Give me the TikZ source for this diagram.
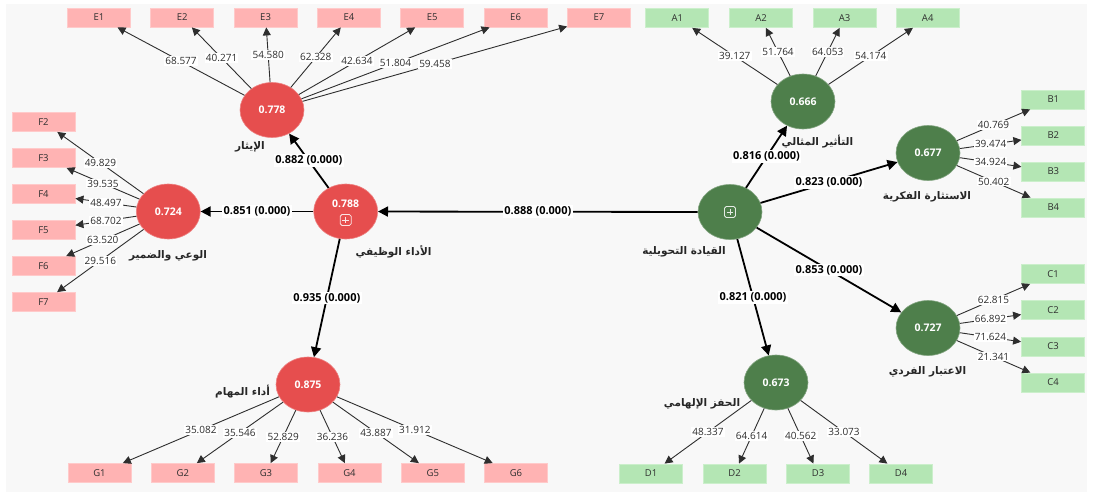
\documentclass[tikz,border=0pt]{standalone}
\usepackage{fontspec}
\setmainfont{Open Sans}
\newfontfamily\arabicfont[Script=Arabic]{DejaVu Sans}
\TeXXeTstate=1
\usetikzlibrary{shapes.geometric,arrows.meta}

\definecolor{panelbg}{HTML}{F8F8F8}
\definecolor{redlv}{HTML}{E64E4E}
\definecolor{greenlv}{HTML}{4E7F4B}
\definecolor{pinkind}{HTML}{FFB3B3}
\definecolor{pinkedge}{HTML}{FFCACA}
\definecolor{greenind}{HTML}{B4E6B4}
\definecolor{greenedge}{HTML}{CBEFCB}
\definecolor{inktext}{HTML}{2E2E2E}

\tikzset{
  latent/.style={ellipse, minimum width=64pt, minimum height=55pt, inner sep=0pt,
    text=white, font=\bfseries\fontsize{10.5}{12}\selectfont},
  redlatent/.style={latent, fill=redlv, draw=redlv!70!white, line width=0.6pt},
  greenlatent/.style={latent, fill=greenlv, draw=greenlv!70!white, line width=0.6pt},
  lvvalue/.style={text=white, font=\bfseries\fontsize{10.5}{12}\selectfont, inner sep=0pt},
  indbox/.style={rectangle, minimum width=63pt, minimum height=19pt, inner sep=0pt,
    line width=0.8pt, text=inktext, font=\fontsize{9.5}{10}\selectfont},
  redind/.style={indbox, fill=pinkind, draw=pinkedge},
  greenind/.style={indbox, fill=greenind, draw=greenedge},
  loading/.style={-{Triangle[length=8pt,width=8pt]}, line width=0.9pt, draw=inktext},
  loadlabel/.style={fill=white, inner sep=1.2pt, text=inktext, font=\fontsize{10}{11}\selectfont},
  structural/.style={-{Triangle[length=10pt,width=10pt]}, line width=1.8pt, draw=black},
  pathlabel/.style={fill=white, inner sep=1.5pt, text=black, font=\bfseries\fontsize{11}{12}\selectfont},
  lvname/.style={inner sep=0pt, text=black!85, font=\arabicfont\bfseries\fontsize{10.5}{12}\selectfont},
  plusbox/.pic={
    \draw[white, opacity=0.85, line width=0.8pt, rounded corners=1.8pt] (-5.5,-5.5) rectangle (5.5,5.5);
    \draw[white, opacity=0.85, line width=0.8pt] (-3.3,0) -- (3.3,0) (0,-3.3) -- (0,3.3);
  }
}

\begin{document}
\begin{tikzpicture}[x=1pt, y=-1pt]
\useasboundingbox (0,0) rectangle (1093,493);
\fill[panelbg] (6,4) rectangle (1087,491.5);

% ---------- latent variables ----------
\node[redlatent] (AL) at (272,110) {0.778};
\node[redlatent] (CS) at (168.3,211.5) {0.724};
\node[redlatent] (JP) at (345.7,211.5) {};
\node[lvvalue] (JPv) at (345.7,203.3) {0.788};
\pic at (345.7,220) {plusbox};
\node[redlatent] (TP) at (308,384.5) {0.875};

\node[greenlatent] (TL) at (730,212) {};
\pic at (730,212) {plusbox};
\node[greenlatent] (II) at (803,101.5) {0.666};
\node[greenlatent] (IS) at (928,153) {0.677};
\node[greenlatent] (IC) at (928,328) {0.727};
\node[greenlatent] (IM) at (776,382.5) {0.673};

% ---------- construct names ----------
\node[lvname] (ALn) at (250,147) {\beginR الإيثار\endR};
\node[lvname] (CSn) at (168,256) {\beginR الوعي والضمير\endR};
\node[lvname] (JPn) at (393.5,252) {\beginR الأداء الوظيفي\endR};
\node[lvname] (TPn) at (242.5,392) {\beginR أداء المهام\endR};
\node[lvname] (TLn) at (684,252) {\beginR القيادة التحويلية\endR};
\node[lvname] (IIn) at (817.5,142) {\beginR التأثير المثالي\endR};
\node[lvname] (ISn) at (927,197) {\beginR الاستثارة الفكرية\endR};
\node[lvname] (ICn) at (927.5,372) {\beginR الاعتبار الفردي\endR};
\node[lvname] (IMn) at (702,404) {\beginR الحفز الإلهامي\endR};

% ---------- indicators ----------
\foreach \i/\xx in {1/99,2/182.3,3/265.6,4/349,5/432.3,6/515.6,7/599}
  \node[redind] (E\i) at (\xx,17.5) {E\i};
\foreach \i/\yy in {2/122,3/158,4/194,5/230,6/266,7/302}
  \node[redind] (F\i) at (43.5,\yy) {F\i};
\foreach \i/\xx in {1/99.5,2/182.8,3/266,4/349.5,5/432.8,6/516}
  \node[redind] (G\i) at (\xx,473) {G\i};
\foreach \i/\xx in {1/677.3,2/761,3/844.5,4/927.7}
  \node[greenind] (A\i) at (\xx,18) {A\i};
\foreach \i/\yy in {1/99.5,2/135.5,3/171.5,4/207.5}
  \node[greenind] (B\i) at (1053.3,\yy) {B\i};
\foreach \i/\yy in {1/274,2/310,3/346.5,4/382.5}
  \node[greenind] (C\i) at (1053,\yy) {C\i};
\foreach \i/\xx in {1/651,2/734.5,3/818,4/901}
  \node[greenind] (D\i) at (\xx,473.5) {D\i};

% ---------- outer loadings ----------
\foreach \i/\v in {1/68.577,2/40.271,3/54.580,4/62.328,5/42.634,6/51.804,7/59.458}
  \draw[loading] (AL) -- node[loadlabel] {\v} (E\i);
\foreach \i/\v in {2/49.829,3/39.535,4/48.497,5/68.702,6/63.520,7/29.516}
  \draw[loading] (CS) -- node[loadlabel] {\v} (F\i);
\foreach \i/\v in {1/35.082,2/35.546,3/52.829,4/36.236,5/43.887,6/31.912}
  \draw[loading] (TP) -- node[loadlabel] {\v} (G\i);
\foreach \i/\v in {1/39.127,2/51.764,3/64.053,4/54.174}
  \draw[loading] (II) -- node[loadlabel] {\v} (A\i);
\foreach \i/\v in {1/40.769,2/39.474,3/34.924,4/50.402}
  \draw[loading] (IS) -- node[loadlabel] {\v} (B\i);
\foreach \i/\v in {1/62.815,2/66.892,3/71.624,4/21.341}
  \draw[loading] (IC) -- node[loadlabel] {\v} (C\i);
\foreach \i/\v in {1/48.337,2/64.614,3/40.562,4/33.073}
  \draw[loading] (IM) -- node[loadlabel] {\v} (D\i);

% ---------- structural paths ----------
\draw[structural] (TL) -- node[pathlabel] {0.888 (0.000)} (JP);
\draw[structural] (JP) -- node[pathlabel] {0.882 (0.000)} (AL);
\draw[structural] (JP) -- node[pathlabel] {0.851 (0.000)} (CS);
\draw[structural] (JP) -- node[pathlabel] {0.935 (0.000)} (TP);
\draw[structural] (TL) -- node[pathlabel] {0.816 (0.000)} (II);
\draw[structural] (TL) -- node[pathlabel] {0.823 (0.000)} (IS);
\draw[structural] (TL) -- node[pathlabel] {0.853 (0.000)} (IC);
\draw[structural] (TL) -- node[pathlabel] {0.821 (0.000)} (IM);
\end{tikzpicture}
\end{document}
